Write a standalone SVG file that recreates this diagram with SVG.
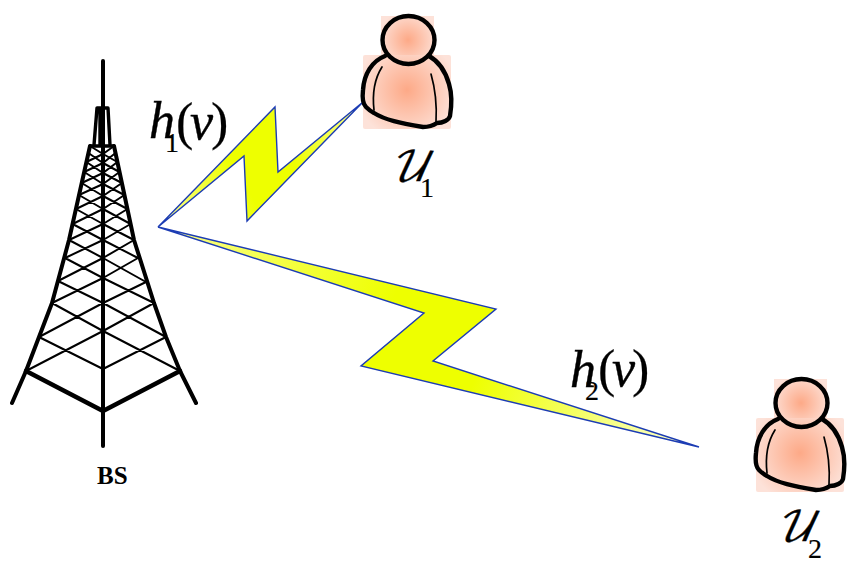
<svg xmlns="http://www.w3.org/2000/svg" xmlns:xlink="http://www.w3.org/1999/xlink" width="857" height="564" viewBox="0 0 857 564">
<style>
.leg{fill:none;stroke:#000;stroke-width:4;stroke-linecap:round;stroke-linejoin:round}
.lat{fill:none;stroke:#000;stroke-width:2}
.bolt{stroke:#1c3cb4;stroke-width:1.4;stroke-linejoin:miter}
.outline{fill:none;stroke:#000;stroke-width:4.4;stroke-linecap:round;stroke-linejoin:round}
.inner{fill:none;stroke:#000;stroke-width:1.7;stroke-linecap:round}
.eq{font-family:"Liberation Serif",serif;font-style:italic;fill:#000;stroke:#000;stroke-width:.4}
.sub{font-style:normal;stroke-width:.2}
.script{font-family:"DejaVu Math TeX Gyre","Noto Sans Math","DejaVu Serif","Liberation Serif",serif}
</style>
<defs>
<radialGradient id="skinHead" gradientUnits="userSpaceOnUse" cx="408" cy="40" r="30"><stop offset="0" stop-color="#fda987"/><stop offset="1" stop-color="#fde2d9"/></radialGradient>
<radialGradient id="skinBody" gradientUnits="userSpaceOnUse" cx="407" cy="90" r="50"><stop offset="0" stop-color="#fda987"/><stop offset="1" stop-color="#fde2d9"/></radialGradient>
<linearGradient id="y1" gradientUnits="userSpaceOnUse" x1="158" y1="227" x2="363" y2="102"><stop offset="0" stop-color="#fbffa0"/><stop offset=".4" stop-color="#eeff00"/><stop offset=".62" stop-color="#eeff00"/><stop offset="1" stop-color="#fbffa0"/></linearGradient>
<linearGradient id="y2" gradientUnits="userSpaceOnUse" x1="158" y1="227" x2="699" y2="447"><stop offset="0" stop-color="#fbff90"/><stop offset=".42" stop-color="#eeff00"/><stop offset=".6" stop-color="#eeff00"/><stop offset=".95" stop-color="#fbffc0"/></linearGradient>
<g id="person">
<rect x="381" y="16" width="53" height="40" fill="url(#skinHead)"/>
<rect x="363" y="55" width="88" height="74" rx="2" fill="url(#skinBody)"/>
<path class="outline" d="M385 56C372 61 364 74 363 90C362 99 363 104 366 107C369 110 372 112 374 113C385 120 400 123 423 127C430 127 434 125 437 123C443 123 449 120 450 116C452 104 452 94 449 84C445 70 438 61 429 56"/>
<ellipse class="outline" cx="408.500" cy="40" rx="26" ry="24"/>
<path class="inner" d="M382 67C375 78 372 92 374 110"/>
<path class="inner" d="M431 74C435 88 437 105 436 122"/>
</g>
</defs>
<rect width="857" height="564" fill="#fff"/>
<g id="connectors">
<polygon class="bolt" fill="url(#y1)" points="158,227 275,107 278,172 363,102 247,221 244,156"/>
<polygon class="bolt" fill="url(#y2)" points="158,227 496,309 433,361 699,447 361,366 424,313"/>
</g>
<g id="BS">
<path class="lat" d="M26 371L103 331M180 371L103 331M39 337L103 369M166 337L103 369M39 337L103 303M166 337L103 303M52 303L103 331M154 303L103 331M52 303L103 278M154 303L103 278M58 281L103 303M146 282L103 303M58 281L103 258M146 282L103 258M65 258L103 278M138 258L103 278M65 258L103 240M138 258L103 240M69 240L103 258M134 240L103 258M69 240L103 224M134 240L103 224M72.600 224L103 240M130.600 224L103 240M72.600 224L103 209M130.600 224L103 209M76 209L103 224M127.400 209L103 224M76 209L103 196M127.400 209L103 196M79 195L103 209M124.400 195L103 209M79 195L103 184M124.400 195L103 184M81.700 183L103 196M121.900 183L103 196M81.700 183L103 173M121.900 183L103 173M84.200 172L103 184M119.500 172L103 184M84.200 172L103 163M119.500 172L103 163M86.400 162L103 173M117.400 162L103 173M86.400 162L103 154M117.400 162L103 154M88.400 153L103 163M115.500 153L103 163M90 146L103 154M114 146L103 154"/>
<path class="leg" d="M90 146L69 240L52 303L39 337L26 371L12 403"/>
<path class="leg" d="M114 146L134 240L154 303L166 337L180 371L196 403"/>
<path class="leg" style="stroke-width:3.4" d="M90 146H114M94 145L97 108H108L110 145M100 108V145"/>
<path class="leg" d="M103 61V446"/>
<path class="leg" style="stroke-width:4.6" d="M26 371L103 411L180 371"/>
<text x="97" y="484" font-family="'Liberation Serif',serif" font-weight="700" font-size="25">BS</text>
</g>
<g id="U1">
<use xlink:href="#person" href="#person"/>
<text class="eq script" x="389" y="181" font-size="41">𝒰</text>
<text class="eq sub" x="420" y="197" font-size="28">1</text>
</g>
<g id="U2">
<use xlink:href="#person" href="#person" transform="translate(393 363)"/>
<text class="eq script" x="775" y="541" font-size="41">𝒰</text>
<text class="eq sub" x="808" y="558" font-size="28">2</text>
</g>
<g id="labels">
<text class="eq" font-size="52"><tspan x="149" y="138">h</tspan><tspan class="sub" x="165" y="152" font-size="28">1</tspan><tspan class="sub" x="176" y="139">(</tspan><tspan x="190" y="139">v</tspan><tspan class="sub" x="211" y="139">)</tspan></text>
<text class="eq" font-size="52"><tspan x="570" y="387">h</tspan><tspan class="sub" x="585" y="400" font-size="28">2</tspan><tspan class="sub" x="598" y="386">(</tspan><tspan x="612" y="386">v</tspan><tspan class="sub" x="632" y="386">)</tspan></text>
</g>
</svg>
